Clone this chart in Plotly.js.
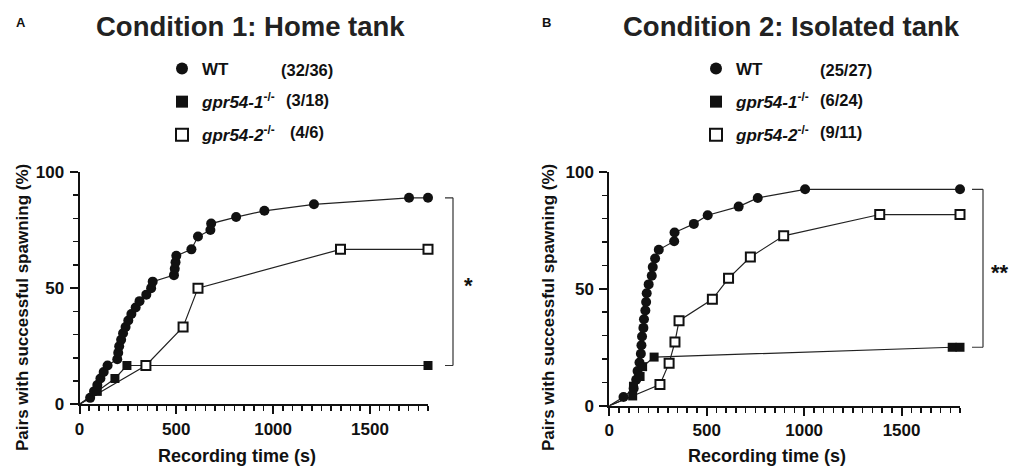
<!DOCTYPE html>
<html>
<head>
<meta charset="utf-8">
<script src="https://cdn.plot.ly/plotly-3.0.1.min.js"></script>
<style>html,body{margin:0;padding:0;background:#fff}#chart{width:1010px;height:467px}</style>
</head>
<body>
<div id="chart"></div>
<script>
// ---------- Data (Condition 1: Home tank) ----------
const tA_WT = [0,55,75,92,108,125,145,195,200,205,215,225,238,252,268,290,310,345,370,378,488,492,496,500,578,612,676,680,809,955,1211,1702,1800];
const vA_WT = [0,2.78,5.56,8.33,11.1,13.9,16.7,19.4,22.2,25,27.8,30.6,33.3,36.1,38.9,41.7,44.4,47.2,50,52.8,55.6,58.3,61.1,63.9,66.7,72.2,75,77.8,80.6,83.3,86.1,88.9,88.9];
const tA_G1 = [0,92,183,245,1800];
const vA_G1 = [0,5.56,11.1,16.7,16.7];
const tA_G2 = [0,343,535,612,1348,1800];
const vA_G2 = [0,16.7,33.3,50,66.7,66.7];

// ---------- Data (Condition 2: Isolated tank) ----------
const tB_WT = [0,73,125,138,145,155,162,165,168,175,178,185,189,192,202,218,223,235,254,333,335,434,505,664,762,1005,1800];
const vB_WT = [0,3.70,7.41,11.1,14.8,18.5,22.2,25.9,29.6,33.3,37.0,40.7,44.4,48.1,51.9,55.6,59.3,63.0,66.7,70.4,74.1,77.8,81.5,85.2,88.9,92.6,92.6];
const tB_G1 = [0,120,124,158,171,230,1760,1800];
const vB_G1 = [0,4.17,8.33,12.5,16.7,20.8,25,25];
const tB_G2 = [0,260,307,337,358,529,612,724,895,1388,1800];
const vB_G2 = [0,9.09,18.2,27.3,36.4,45.5,54.5,63.6,72.7,81.8,81.8];

// ---------- Labels ----------
const panelTitles = ["Condition 1: Home tank", "Condition 2: Isolated tank"];
const panelLetters = ["A", "B"];
const seriesNames = ["<b>WT</b>", "<b><i>gpr54-1</i><sup>-/-</sup></b>", "<b><i>gpr54-2</i><sup>-/-</sup></b>"];
const countsA = ["(32/36)", "(3/18)", "(4/6)"];
const countsB = ["(25/27)", "(6/24)", "(9/11)"];
const sigA = "*", sigB = "**";
const xTitle = "Recording time (s)";
const yTitle = "Pairs with successful spawning (%)";

const FONT = "Liberation Sans, Arial, sans-serif";
const W = 1010, H = 467;
const px = v => v / W, py = v => 1 - v / H;

const markerStyles = [
  {symbol: 'circle', size: 10, color: '#111', line: {width: 0}},
  {symbol: 'square', size: 9, color: '#111', line: {width: 0}},
  {symbol: 'square', size: 9, color: '#fff', line: {width: 2, color: '#111'}}
];

const panels = [
  {xa: 'x', ya: 'y', legend: 'legend', series: [[tA_WT, vA_WT], [tA_G1, vA_G1], [tA_G2, vA_G2]]},
  {xa: 'x2', ya: 'y2', legend: 'legend2', series: [[tB_WT, vB_WT], [tB_G1, vB_G1], [tB_G2, vB_G2]]}
];

const traces = [];
panels.forEach((p, pi) => {
  p.series.forEach(([t, v]) => {
    traces.push({x: t, y: v, xaxis: p.xa, yaxis: p.ya, mode: 'lines', showlegend: false,
      line: {color: '#222', width: 1.2}, cliponaxis: false, hoverinfo: 'skip'});
  });
});
panels.forEach((p, pi) => {
  p.series.forEach(([t, v], si) => {
    traces.push({x: t.slice(1), y: v.slice(1), xaxis: p.xa, yaxis: p.ya, mode: 'markers',
      name: seriesNames[si], legend: p.legend, legendgroup: 'g' + pi + si,
      marker: markerStyles[si], cliponaxis: false});
  });
});

const tickFont = {family: FONT, size: 17, weight: 'bold', color: '#111'};
function xAxis(domain, anchor) {
  return {domain: domain, anchor: anchor, range: [0, 1800], showgrid: false, zeroline: false,
    showline: true, linewidth: 2, linecolor: '#111', ticks: 'outside', ticklen: 8, tickwidth: 2,
    tickcolor: '#111', tick0: 0, dtick: 500, tickfont: tickFont, ticklabelstandoff: 0,
    minor: {dtick: 50, ticks: 'outside', ticklen: 5, tickwidth: 1.5, tickcolor: '#111', showgrid: false},
    fixedrange: true};
}
function yAxis(domain, anchor) {
  return {domain: domain, anchor: anchor, range: [0, 100], showgrid: false, zeroline: false,
    showline: true, linewidth: 2, linecolor: '#111', ticks: 'outside', ticklen: 8, tickwidth: 2,
    tickcolor: '#111', tick0: 0, dtick: 50, tickfont: tickFont, ticklabelstandoff: 2,
    minor: {dtick: 10, ticks: 'outside', ticklen: 5, tickwidth: 1.5, tickcolor: '#111', showgrid: false},
    fixedrange: true};
}
function legendCfg(left) {
  return {x: px(left), xanchor: 'left', y: py(51), yanchor: 'top', bgcolor: 'rgba(0,0,0,0)',
    font: {family: FONT, size: 17, weight: 'bold', color: '#111'}, itemsizing: 'constant',
    traceorder: 'grouped', tracegroupgap: 8, borderwidth: 0};
}

const annotations = [];
const ann = (text, x, y, opts) => annotations.push(Object.assign({text: text, x: px(x), y: py(y),
  xref: 'paper', yref: 'paper', showarrow: false, xanchor: 'center', yanchor: 'middle',
  font: {family: FONT, size: 18, weight: 'bold', color: '#111'}}, opts || {}));

ann(panelLetters[0], 21, 22, {font: {family: FONT, size: 13, weight: 'bold', color: '#111'}});
ann(panelLetters[1], 546, 22, {font: {family: FONT, size: 13, weight: 'bold', color: '#111'}});
ann(panelTitles[0], 250, 27, {font: {family: FONT, size: 27.5, weight: 'bold', color: '#222'}});
ann(panelTitles[1], 791, 27, {font: {family: FONT, size: 27.5, weight: 'bold', color: '#222'}});
const rowsY = [70, 100, 132];
countsA.forEach((c, i) => ann(c, 307, rowsY[i], {font: {family: FONT, size: 16.5, weight: 'bold', color: '#111'}}));
countsB.forEach((c, i) => ann(c, 818, rowsY[i], {xanchor: 'left', font: {family: FONT, size: 16.5, weight: 'bold', color: '#111'}}));
ann(xTitle, 237, 456);
ann(xTitle, 767, 456);
ann(yTitle, 22, 308, {textangle: -90, font: {family: FONT, size: 17, weight: 'bold', color: '#111'}});
ann(yTitle, 548, 308, {textangle: -90, font: {family: FONT, size: 17, weight: 'bold', color: '#111'}});
ann(sigA, 468, 285, {font: {family: FONT, size: 22, weight: 'bold', color: '#111'}});
ann(sigB, 1000, 272, {font: {family: FONT, size: 22, weight: 'bold', color: '#111'}});

const shapes = [];
function bracket(x0, x1, yref, top, bottom) {
  const ln = {color: '#333', width: 1.2};
  shapes.push({type: 'line', xref: 'paper', yref: yref, x0: px(x0), x1: px(x1), y0: top, y1: top, line: ln});
  shapes.push({type: 'line', xref: 'paper', yref: yref, x0: px(x0), x1: px(x1), y0: bottom, y1: bottom, line: ln});
  shapes.push({type: 'line', xref: 'paper', yref: yref, x0: px(x1), x1: px(x1), y0: top, y1: bottom, line: ln});
}
bracket(445, 453, 'y', vA_WT[vA_WT.length - 1], vA_G1[vA_G1.length - 1]);
bracket(972, 983, 'y2', vB_WT[vB_WT.length - 1], vB_G1[vB_G1.length - 1]);

const layout = {
  width: W, height: H, margin: {l: 0, r: 0, t: 0, b: 0},
  paper_bgcolor: '#fff', plot_bgcolor: '#fff', showlegend: true,
  xaxis: xAxis([px(79.5), px(428)], 'y'),
  yaxis: yAxis([1 - 404.3 / H, 1 - 172 / H], 'x'),
  xaxis2: xAxis([px(609.3), px(960)], 'y2'),
  yaxis2: yAxis([1 - 405.7 / H, 1 - 172 / H], 'x2'),
  legend: legendCfg(162),
  legend2: legendCfg(696),
  annotations: annotations,
  shapes: shapes
};

Plotly.newPlot('chart', traces, layout, {displayModeBar: false, staticPlot: true});
</script>
</body>
</html>
